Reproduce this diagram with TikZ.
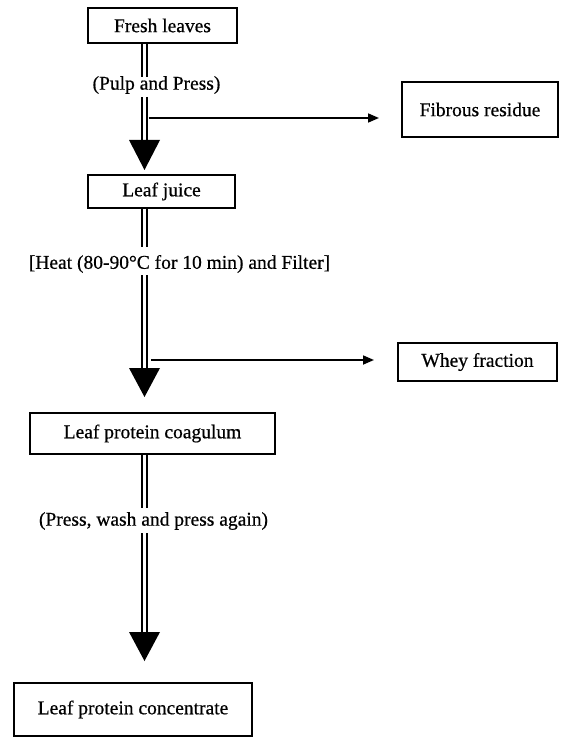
\documentclass[tikz,border=0pt]{standalone}
\usepackage{fontspec}
\setmainfont{Liberation Serif}
\newfontfamily\tfont[FakeBold=0.6]{Liberation Serif}
\usetikzlibrary{arrows.meta}
\begin{document}
\begin{tikzpicture}[x=1pt,y=-1pt,
  box/.style={draw, line width=1.8pt, inner sep=0pt, font=\tfont\fontsize{19.5}{22}\selectfont},
  lbl/.style={inner sep=0pt, font=\tfont\fontsize{19.5}{22}\selectfont},
  dbl/.style={double, line width=1.8pt, double distance=2.6pt},
  side/.style={line width=1.7pt, -{Triangle[length=11pt,width=9pt]}},
  bighead/.style={fill=black}
]
\useasboundingbox (0,0) rectangle (562,738);
\def\ax{144.5}
% boxes
\node[box, minimum width=149pt, minimum height=35pt] (fresh) at (162.5,25.5) {Fresh leaves};
\node[box, minimum width=156pt, minimum height=55pt] (fib) at (480,109.5) {Fibrous residue};
\node[box, minimum width=147pt, minimum height=33pt] (juice) at (161.5,191.5) {Leaf juice};
\node[box, minimum width=159pt, minimum height=38pt] (whey) at (477.5,362) {Whey fraction};
\node[box, minimum width=245pt, minimum height=41pt] (coag) at (152.5,433.5) {Leaf protein coagulum};
\node[box, minimum width=238pt, minimum height=53pt] (conc) at (133,709.5) {Leaf protein concentrate};
% labels
\node[lbl] (l1) at (156.5,85) {(Pulp and Press)};
\node[lbl] (l2) at (179.5,264) {[Heat (80-90\textdegree C for 10 min) and Filter]};
\node[lbl] (l3) at (153.5,521) {(Press, wash and press again)};
% coordinates
\coordinate (a1) at (\ax,77);
\coordinate (a2) at (\ax,97);
\coordinate (h1) at (\ax,140);
\coordinate (t1) at (\ax,170);
\coordinate (b1) at (\ax,247);
\coordinate (b2) at (\ax,275);
\coordinate (h2) at (\ax,368);
\coordinate (t2) at (\ax,397);
\coordinate (c1) at (\ax,508);
\coordinate (c2) at (\ax,533);
\coordinate (h3) at (\ax,632);
\coordinate (t3) at (\ax,661);
\coordinate (s1) at (148.5,118);
\coordinate (e1) at (379,118);
\coordinate (s2) at (151,360);
\coordinate (e2) at (374,360);
% main connectors
\draw[dbl] (fresh.south -| a1) -- (a1);
\draw[dbl] (a2) -- (h1);
\fill[bighead] (h1) ++(-15.5,0) -- ++(31,0) -- (t1) -- cycle;
\draw[dbl] (juice.south -| b1) -- (b1);
\draw[dbl] (b2) -- (h2);
\fill[bighead] (h2) ++(-15.5,0) -- ++(31,0) -- (t2) -- cycle;
\draw[dbl] (coag.south -| c1) -- (c1);
\draw[dbl] (c2) -- (h3);
\fill[bighead] (h3) ++(-15.5,0) -- ++(31,0) -- (t3) -- cycle;
% side connectors
\draw[side] (s1) -- (e1);
\draw[side] (s2) -- (e2);
\end{tikzpicture}
\end{document}
